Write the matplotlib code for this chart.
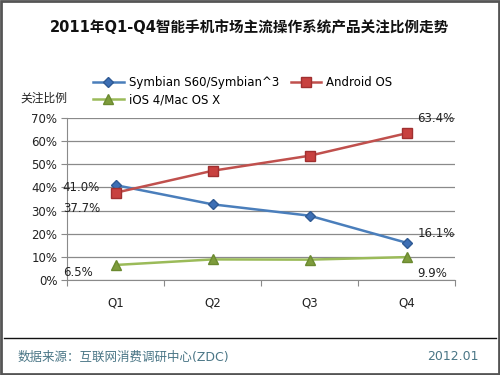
import matplotlib
matplotlib.use("Agg")
import matplotlib.pyplot as plt
from matplotlib.patches import Rectangle
from matplotlib.lines import Line2D

plt.rcParams['font.family'] = ['DejaVu Sans', 'Noto Sans CJK SC']

quarters = ['Q1', 'Q2', 'Q3', 'Q4']
symbian = [41.0, 32.7, 27.8, 16.1]
android = [37.7, 47.2, 53.7, 63.4]
ios = [6.5, 8.9, 8.8, 9.9]
yticks = [0, 10, 20, 30, 40, 50, 60, 70]

fig = plt.figure(figsize=(5, 3.75), dpi=100)
ax = fig.add_axes([0.134, 0.2533, 0.776, 0.432])

x = list(range(len(quarters)))
l1, = ax.plot(x, symbian, color='#4a7ebb', lw=1.8, marker='D', ms=5.5, mfc='#3d6fb5', mec='#2f5a94', label='Symbian S60/Symbian^3')
l2, = ax.plot(x, android, color='#c0504d', lw=1.8, marker='s', ms=6.5, mfc='#c8413f', mec='#a03030', label='Android OS')
l3, = ax.plot(x, ios, color='#9bbb59', lw=1.8, marker='^', ms=7.5, mfc='#7e9c3c', mec='#6b8a30', label='iOS 4/Mac OS X')

ax.set_xlim(-0.5, 3.5)
ax.set_ylim(0, 70)
ax.set_yticks(yticks)
ax.set_yticklabels([f'{v}%' for v in yticks], fontsize=8.5, color='#222222')
ax.yaxis.grid(True, color='#8a8a8a', lw=0.9)
ax.set_axisbelow(True)

ax.set_xticks([i - 0.5 for i in range(5)])
ax.set_xticklabels([])
ax.set_xticks(x, minor=True)
ax.set_xticklabels(quarters, minor=True, fontsize=8.5, color='#222222')
ax.tick_params(axis='x', which='minor', length=0, pad=12)
ax.tick_params(axis='x', which='major', length=4, color='#8a8a8a')
ax.tick_params(axis='y', length=4, color='#8a8a8a', pad=3)

for s in ['top', 'right']:
    ax.spines[s].set_visible(False)
for s in ['left', 'bottom']:
    ax.spines[s].set_color('#8a8a8a')

fs = 8.5
ax.annotate(f'{symbian[0]:.1f}%', (x[0], symbian[0]), xytext=(-38, -4), textcoords='offset points', fontsize=fs, color='#222222')
ax.annotate(f'{android[0]:.1f}%', (x[0], android[0]), xytext=(-38, -14), textcoords='offset points', fontsize=fs, color='#222222')
ax.annotate(f'{ios[0]:.1f}%', (x[0], ios[0]), xytext=(-38, -8), textcoords='offset points', fontsize=fs, color='#222222')
ax.annotate(f'{android[3]:.1f}%', (x[3], android[3]), xytext=(8, 8), textcoords='offset points', fontsize=fs, color='#222222')
ax.annotate(f'{symbian[3]:.1f}%', (x[3], symbian[3]), xytext=(8, 4), textcoords='offset points', fontsize=fs, color='#222222')
ax.annotate(f'{ios[3]:.1f}%', (x[3], ios[3]), xytext=(8, -14), textcoords='offset points', fontsize=fs, color='#222222')

fig.legend([l1, l3, l2], [l1.get_label(), l3.get_label(), l2.get_label()],
           loc='upper left', bbox_to_anchor=(0.165, 0.825), ncol=2, frameon=False,
           fontsize=8.5, handlelength=2.6, columnspacing=1.0, labelspacing=0.35, handletextpad=0.4)

fig.text(0.5, 0.928, '2011年Q1-Q4智能手机市场主流操作系统产品关注比例走势', ha='center', va='center',
         fontsize=10.5, fontweight='bold', color='#111111')
fig.text(0.04, 0.738, '关注比例', fontsize=8.5, va='center', color='#222222')

fig.add_artist(Line2D([0.008, 0.992], [1 - 338 / 375] * 2, color='#111111', lw=1.0))
fig.text(0.036, 1 - 357 / 375, '数据来源：互联网消费调研中心(ZDC)', fontsize=9, va='center', color='#4a7686')
fig.text(0.958, 1 - 357 / 375, '2012.01', fontsize=9, va='center', ha='right', color='#4a7686')
fig.add_artist(Rectangle((0.002, 0.003), 0.996, 0.994, fill=False, ec='#555555', lw=2, transform=fig.transFigure))

fig.savefig('out.png', dpi=100)
